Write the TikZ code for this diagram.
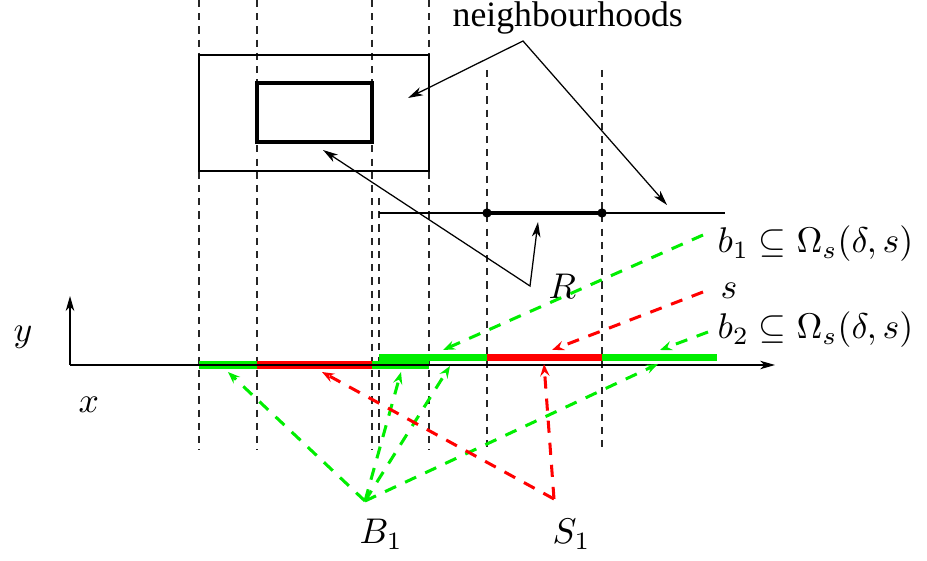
\documentclass[tikz,border=0pt]{standalone}
\usepackage{fontspec}
\newfontfamily\tms{Liberation Serif}
\usetikzlibrary{arrows.meta}
\definecolor{fgreen}{RGB}{0,238,0}
\definecolor{fred}{RGB}{255,0,0}
\begin{document}
\begin{tikzpicture}[x=0.28pt,y=-0.28pt,
  guide/.style={draw=black!85, line width=0.3pt, dash pattern=on 2pt off 1.7pt},
  plainline/.style={line width=0.35pt},
  boldline/.style={line width=1.1pt},
  ptr/.style={line width=0.35pt},
  tipS/.tip={Stealth[length=4.2pt,width=2.4pt,inset=1.2pt]},
  tipC/.tip={Stealth[length=3.4pt,width=2.6pt,inset=1.2pt]},
  cdash/.style={line width=0.85pt, dash pattern=on 3.4pt off 2.8pt, -tipC},
  bar/.style={line width=1.75pt},
  lowbar/.style={line width=2.1pt},
  lbl/.style={inner sep=0pt, anchor=base west, font=\fontsize{10.3}{12}\selectfont}
]
\useasboundingbox (0,0) rectangle (927,561);

% dashed guide lines
\foreach \x in {199,257,372,429} \draw[guide] (\x,0) -- (\x,450);
\foreach \x in {487,602} \draw[guide] (\x,70) -- (\x,450);
\draw[guide] (379,198) -- (379,450);

% neighbourhoods (2D)
\draw[plainline] (199,55) rectangle (429,171);
\draw[boldline] (257,83) rectangle (372,142);

% neighbourhoods (1D)
\draw[plainline] (379,213) -- (725,213);
\draw[boldline] (487,213) -- (602,213);
\fill (487,213) circle (1.3pt);
\fill (602,213) circle (1.3pt);

% coloured bars
\draw[lowbar, fgreen] (199,365) -- (257,365);
\draw[lowbar, fred] (257,365) -- (372,365);
\draw[lowbar, fgreen] (372,365) -- (429,365);
\draw[bar, fgreen] (379,357.5) -- (487,357.5);
\draw[bar, fred] (487,357.5) -- (602,357.5);
\draw[bar, fgreen] (602,357.5) -- (717,357.5);

% axes
\coordinate (O) at (70,365);
\coordinate (xe) at (775,365);
\coordinate (ye) at (70,296);
\draw[line width=0.3pt, -tipS] (O) -- (xe);
\draw[plainline, -tipS] (O) -- (ye);

% labels
\node[lbl, font=\fontsize{10}{12}\selectfont] (nbh) at (452,27) {\tms neighbourhoods};
\node[lbl] (R) at (548,299) {$R$};
\node[lbl] (yl) at (13,342) {$y$};
\node[lbl] (xl) at (78,413) {$x$};
\node[lbl] (b1) at (717,253) {$b_1\subseteq\Omega_s(\delta,s)$};
\node[lbl] (sl) at (720,299) {$s$};
\node[lbl] (b2) at (717,339) {$b_2\subseteq\Omega_s(\delta,s)$};
\node[lbl] (B1) at (359,544) {$B_1$};
\node[lbl] (S1) at (552,544) {$S_1$};

% pointer lines
\coordinate (nk) at (523,41);
\coordinate (nA) at (408,98);
\coordinate (nB) at (667,205);
\draw[ptr, tipS-tipS] (nA) -- (nk) -- (nB);
\coordinate (rk) at (530,286);
\coordinate (rA) at (323,150);
\coordinate (rB) at (538,222);
\draw[ptr, tipS-tipS] (rA) -- (rk) -- (rB);

% coloured dashed arrows
\coordinate (b1s) at (703,235);
\coordinate (ss) at (703,292);
\coordinate (b2s) at (708,332);
\coordinate (Bp) at (365,501);
\coordinate (Sp) at (554,499);
\draw[cdash, fgreen] (b1s) -- (443,350);
\draw[cdash, fred] (ss) -- (552,350);
\draw[cdash, fgreen] (b2s) -- (660,350);
\draw[cdash, fgreen] (Bp) -- (228,372);
\draw[cdash, fgreen] (Bp) -- (401,372);
\draw[cdash, fgreen] (Bp) -- (450,366);
\draw[cdash, fgreen] (Bp) -- (658,364);
\draw[cdash, fred] (Sp) -- (322,372);
\draw[cdash, fred] (Sp) -- (544,364);
\end{tikzpicture}
\end{document}
